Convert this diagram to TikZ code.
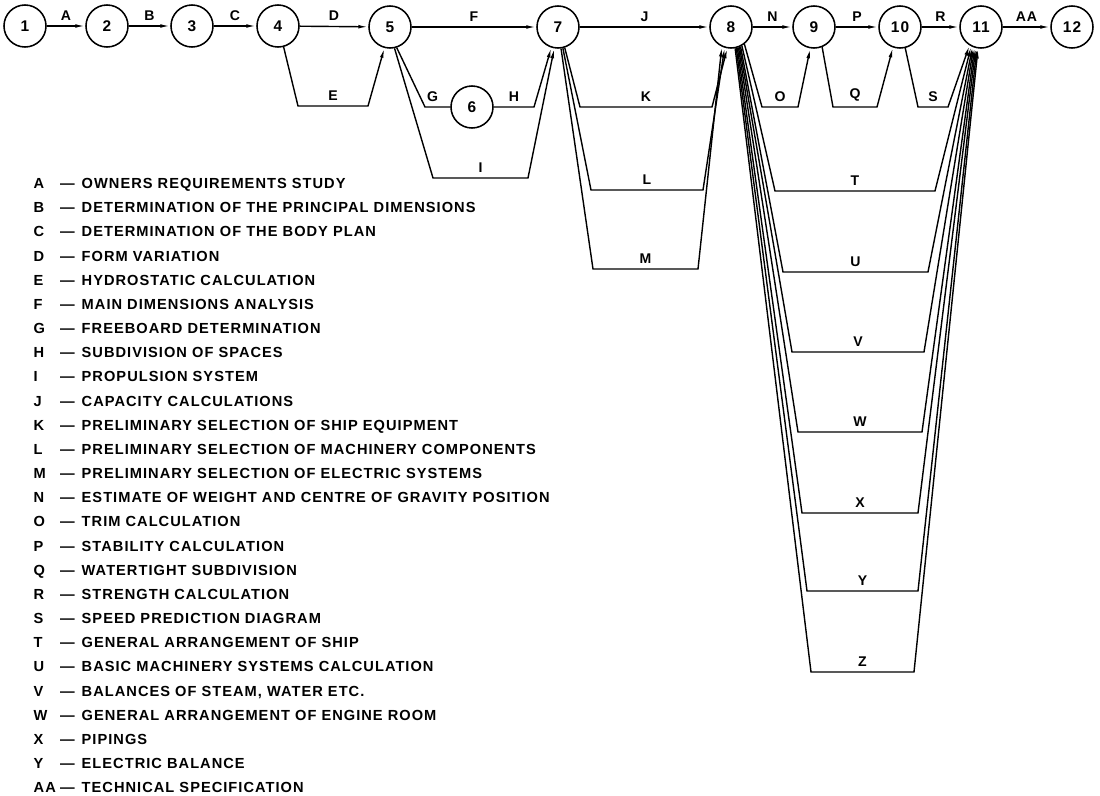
\documentclass[tikz,border=0pt]{standalone}
\usepackage{fontspec}
\setmainfont{Liberation Sans}[LetterSpace=7]
\usepackage{tikz}
\usetikzlibrary{arrows.meta}
\tikzstyle{event} = [draw, circle, minimum size=1.05cm, inner sep=0pt,
    line width=1.1pt, font=\fontsize{11}{13}\selectfont\bfseries]
\tikzstyle{lbl} = [font=\bfseries, inner sep=3.5pt]
\tikzstyle{legend} = [anchor=north west, inner sep=0pt,
    font=\fontsize{10.4}{12}\selectfont\bfseries]

\begin{document}
\begin{tikzpicture}[x=0.025cm, y=-0.025cm, auto, line width=1pt,
    >={Latex[length=7pt,width=2.6pt]}]
    \useasboundingbox (0,0) rectangle (1100,796);

    % events
    \node [event] (ev1) at (25,26) {1};
    \node [event] (ev2) at (107,26) {2};
    \node [event] (ev3) at (192,26) {3};
    \node [event] (ev4) at (278,26) {4};
    \node [event] (ev5) at (390,27) {5};
    \node [event] (ev6) at (472,107) {6};
    \node [event] (ev7) at (558,27) {7};
    \node [event] (ev8) at (731,27) {8};
    \node [event] (ev9) at (814,27) {9};
    \node [event] (ev10) at (900,27) {10};
    \node [event] (ev11) at (981,27) {11};
    \node [event] (ev12) at (1072,27) {12};

    % main chain
    \draw [->] (ev1) -- node [lbl] {A} (ev2);
    \draw [->] (ev2) -- node [lbl] {B} (ev3);
    \draw [->] (ev3) -- node [lbl] {C} (ev4);
    \draw [->] (ev4) -- node [lbl] {D} (ev5);
    \draw [->] (ev5) -- node [lbl] {F} (ev7);
    \draw [->] (ev7) -- node [lbl] {J} (ev8);
    \draw [->] (ev8) -- node [lbl] {N} (ev9);
    \draw [->] (ev9) -- node [lbl] {P} (ev10);
    \draw [->] (ev10) -- node [lbl] {R} (ev11);
    \draw [->] (ev11) -- node [lbl] {AA} (ev12);

    % parallel activities
    \draw [->] (ev4.-75) -- (298,106) -- node [lbl] {E} (368,106) -- (ev5.-105);
    \draw (ev5.-72) -- (425,107) -- node [lbl, pos=0.3] {G} (ev6);
    \draw [->] (ev6) -- node [lbl] {H} (534,107) -- (ev7.-108);
    \draw [->] (ev5.-78) -- (433,178) -- node [lbl] {I} (528,178) -- (ev7.-100);
    \draw [->] (ev7.-72) -- (580,107) -- node [lbl] {K} (712,107) -- (ev8.-100);
    \draw [->] (ev7.-77) -- (591,190) -- node [lbl] {L} (703,190) -- (ev8.-107);
    \draw [->] (ev7.-82) -- (593,269) -- node [lbl] {M} (698,269) -- (ev8.-115);
    \draw [->] (ev8.-52) -- (762,107) -- node [lbl] {O} (798,107) -- (ev9.-100);
    \draw [->] (ev9.-68) -- (833,107) -- node [lbl] {Q} (877,107) -- (ev10.-109);
    \draw [->] (ev10.-76) -- (918,107) -- node [lbl] {S} (948,107) -- (ev11.-122);

    % fan from 8 to 11
    \draw [->] (ev8.-60) -- (775,191) -- node [lbl] {T} (935,191) -- (ev11.-117);
    \draw [->] (ev8.-64) -- (783,272) -- node [lbl] {U} (928,272) -- (ev11.-113);
    \draw [->] (ev8.-67) -- (792,352) -- node [lbl] {V} (924,352) -- (ev11.-110);
    \draw [->] (ev8.-70) -- (798,432) -- node [lbl] {W} (922,432) -- (ev11.-107);
    \draw [->] (ev8.-73) -- (802,513) -- node [lbl] {X} (918,513) -- (ev11.-104);
    \draw [->] (ev8.-76) -- (807,591) -- node [lbl] {Y} (918,591) -- (ev11.-101);
    \draw [->] (ev8.-79) -- (811,672) -- node [lbl] {Z} (914,672) -- (ev11.-98);

    % key to the activities
    \node [legend] (legend) at (33,171) {\renewcommand{\arraystretch}{1.432}%
      \begin{tabular}{@{}l@{\hspace{3pt}}c@{\hspace{5pt}}l@{}}
        A & --- & OWNERS REQUIREMENTS STUDY\\
        B & --- & DETERMINATION OF THE PRINCIPAL DIMENSIONS\\
        C & --- & DETERMINATION OF THE BODY PLAN\\
        D & --- & FORM VARIATION\\
        E & --- & HYDROSTATIC CALCULATION\\
        F & --- & MAIN DIMENSIONS ANALYSIS\\
        G & --- & FREEBOARD DETERMINATION\\
        H & --- & SUBDIVISION OF SPACES\\
        I & --- & PROPULSION SYSTEM\\
        J & --- & CAPACITY CALCULATIONS\\
        K & --- & PRELIMINARY SELECTION OF SHIP EQUIPMENT\\
        L & --- & PRELIMINARY SELECTION OF MACHINERY COMPONENTS\\
        M & --- & PRELIMINARY SELECTION OF ELECTRIC SYSTEMS\\
        N & --- & ESTIMATE OF WEIGHT AND CENTRE OF GRAVITY POSITION\\
        O & --- & TRIM CALCULATION\\
        P & --- & STABILITY CALCULATION\\
        Q & --- & WATERTIGHT SUBDIVISION\\
        R & --- & STRENGTH CALCULATION\\
        S & --- & SPEED PREDICTION DIAGRAM\\
        T & --- & GENERAL ARRANGEMENT OF SHIP\\
        U & --- & BASIC MACHINERY SYSTEMS CALCULATION\\
        V & --- & BALANCES OF STEAM, WATER ETC.\\
        W & --- & GENERAL ARRANGEMENT OF ENGINE ROOM\\
        X & --- & PIPINGS\\
        Y & --- & ELECTRIC BALANCE\\
        AA & --- & TECHNICAL SPECIFICATION
      \end{tabular}};
\end{tikzpicture}
\end{document}
